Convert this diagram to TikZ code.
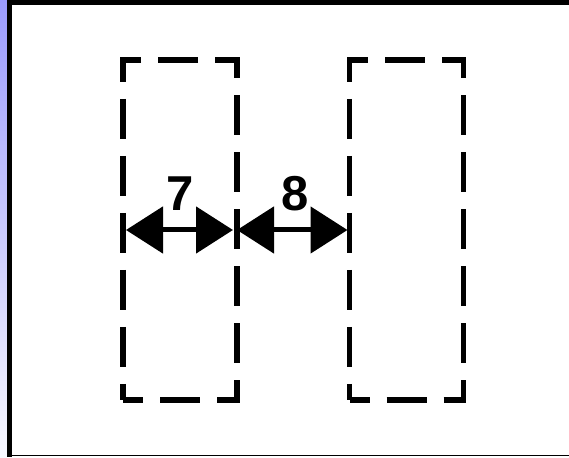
\documentclass[tikz,border=0pt]{standalone}
\usepackage{fontspec}
\setmainfont{Liberation Sans}
\usetikzlibrary{arrows.meta}
\definecolor{stripTop}{RGB}{155,155,255}
\definecolor{stripBot}{RGB}{248,248,255}
\begin{document}
\begin{tikzpicture}[x=1pt, y=1pt,
    gapbox/.style={draw, line width=5.5pt, dash pattern=on 40pt off 17pt, dash phase=20pt,
        minimum width=114pt, minimum height=340pt, outer sep=0pt, inner sep=0pt},
    span/.style={line width=5pt, {Triangle[length=37pt,width=46pt]}-{Triangle[length=37pt,width=46pt]}},
    numlabel/.style={inner sep=0pt, font=\bfseries\fontsize{49}{49}\selectfont}]
    \useasboundingbox (0,0) rectangle (569,457);
    % strip and frame
    \shade[top color=stripTop, bottom color=stripBot] (0,0) rectangle (7,457);
    \draw[line width=4.5pt] (7,454.5) -- (569,454.5);
    \draw[line width=4.5pt] (9.25,457) -- (9.25,0.5);
    \draw[line width=1.5pt] (9,1.3) -- (569,1.3);
    % the two boxes
    \node[gapbox] (lbox) at (180,227) {};
    \node[gapbox] (rbox) at (406.5,227) {};
    % distances
    \draw[span, shorten <=3pt, shorten >=4pt] (lbox.west) -- (lbox.east)
        node[numlabel, midway, above=17pt, xshift=0.5pt] (seven) {7};
    \draw[span, shorten >=2pt] (lbox.east) -- (rbox.west)
        node[numlabel, midway, above=17pt, xshift=2pt] (eight) {8};
\end{tikzpicture}
\end{document}
